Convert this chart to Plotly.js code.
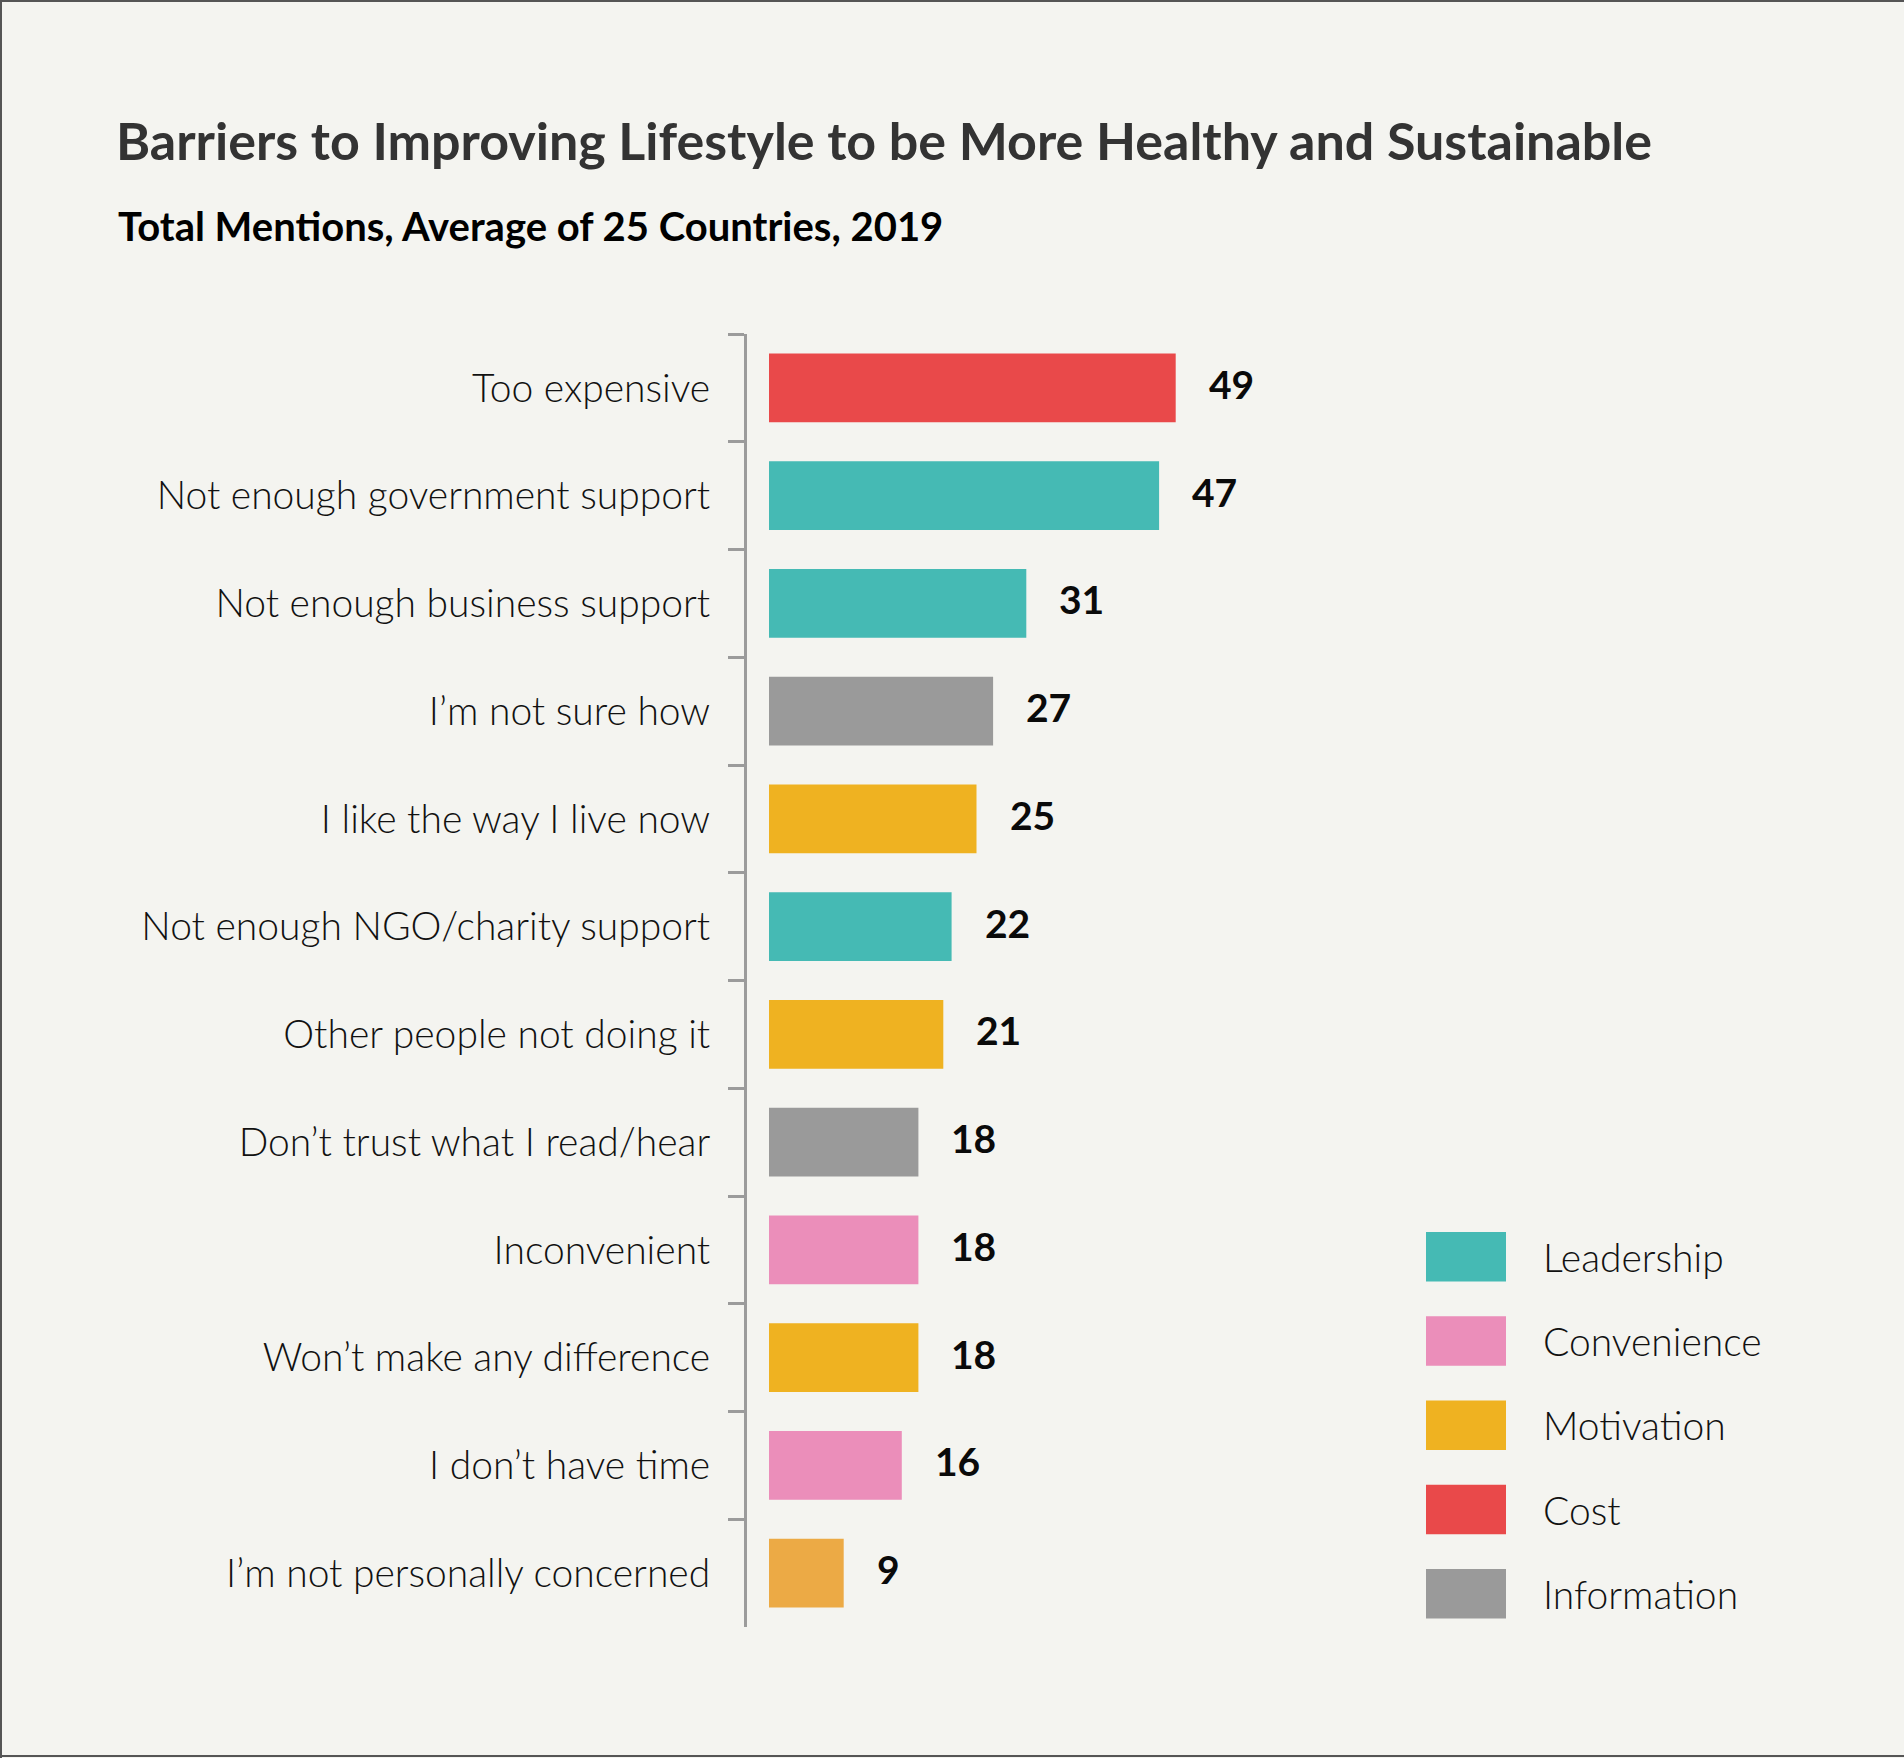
<!DOCTYPE html>
<html>
<head>
<meta charset="utf-8">
<script src="https://cdn.plot.ly/plotly-3.0.1.min.js"></script>
<style>
  html, body { margin: 0; padding: 0; background: #F4F4F0; }
  #chart { width: 1904px; height: 1758px; }
</style>
</head>
<body>
<div id="chart"></div>
<script>
// ---- Data ----
const categories = [
  "Too expensive",
  "Not enough government support",
  "Not enough business support",
  "I\u2019m not sure how",
  "I like the way I live now",
  "Not enough NGO/charity support",
  "Other people not doing it",
  "Don\u2019t trust what I read/hear",
  "Inconvenient",
  "Won\u2019t make any difference",
  "I don\u2019t have time",
  "I\u2019m not personally concerned"
];
const values = [49, 47, 31, 27, 25, 22, 21, 18, 18, 18, 16, 9];
const groups = [
  "Cost", "Leadership", "Leadership", "Information", "Motivation", "Leadership",
  "Motivation", "Information", "Convenience", "Motivation", "Convenience", "Motivation"
];
const legendGroups = ["Leadership", "Convenience", "Motivation", "Cost", "Information"];

// ---- Styles ----
const groupColors = {
  "Leadership": "#45BAB4",
  "Convenience": "#EB8EBA",
  "Motivation": "#EFB221",
  "Cost": "#E9494A",
  "Information": "#9A9A9A"
};
const barColors = groups.map((g, i) => (i === groups.length - 1 ? "#ECAA45" : groupColors[g]));

const FONT = "Lato, 'Open Sans', sans-serif";
const FIG_W = 1904, FIG_H = 1758;
const M = { l: 747, t: 334, r: 471, b: 131 };
const PW = FIG_W - M.l - M.r, PH = FIG_H - M.t - M.b;
const px2x = px => (px - M.l) / PW;
const py2y = py => (M.t + PH - py) / PH;

const trace = {
  type: "bar",
  orientation: "h",
  x: values,
  y: categories,
  marker: { color: barColors, line: { width: 0 } },
  hoverinfo: "skip"
};

const annotations = [];
values.forEach((v, i) => {
  annotations.push({
    x: v, y: categories[i], xref: "x", yref: "y",
    text: "<b>" + v + "</b>", showarrow: false,
    xanchor: "left", yanchor: "middle", xshift: 31, yshift: 4,
    font: { family: FONT, size: 39, color: "#0A0A0A" }
  });
});

// subtitle
annotations.push({
  xref: "paper", yref: "paper", x: px2x(116), y: py2y(226),
  xanchor: "left", yanchor: "middle", showarrow: false,
  text: "<b>Total Mentions, Average of 25 Countries, 2019</b>",
  font: { family: FONT, size: 40, color: "#000000" }
});

// legend
const shapes = [];
const legTop0 = 1232, legStep = 84.25, swH = 49.5;
legendGroups.forEach((g, k) => {
  const top = legTop0 + k * legStep;
  shapes.push({
    type: "rect", xref: "paper", yref: "paper",
    x0: px2x(1426), x1: px2x(1506), y0: py2y(top + swH), y1: py2y(top),
    fillcolor: groupColors[g], line: { width: 0 }
  });
  annotations.push({
    xref: "paper", yref: "paper", x: px2x(1541), y: py2y(top + swH / 2),
    xanchor: "left", yanchor: "middle", showarrow: false,
    text: g, font: { family: FONT, size: 39, color: "#111111", weight: 300 }
  });
});

// frame (top, left, bottom)
const frameLine = { color: "#555555", width: 2 };
shapes.push({ type: "line", xref: "paper", yref: "paper", x0: px2x(0), x1: px2x(FIG_W), y0: py2y(1), y1: py2y(1), line: frameLine });
shapes.push({ type: "line", xref: "paper", yref: "paper", x0: px2x(1), x1: px2x(1), y0: py2y(0), y1: py2y(FIG_H), line: frameLine });
shapes.push({ type: "line", xref: "paper", yref: "paper", x0: px2x(0), x1: px2x(FIG_W), y0: py2y(FIG_H - 2), y1: py2y(FIG_H - 2), line: frameLine });

const layout = {
  width: FIG_W, height: FIG_H,
  margin: M,
  paper_bgcolor: "#F4F4F0",
  plot_bgcolor: "#F4F4F0",
  showlegend: false,
  bargap: 0.364,
  title: {
    text: "Barriers to Improving Lifestyle to be More Healthy and Sustainable",
    font: { family: FONT, size: 52, color: "#333333", weight: 700 },
    xref: "container", yref: "container",
    x: 116 / FIG_W, xanchor: "left",
    y: 1 - 142 / FIG_H, yanchor: "middle"
  },
  xaxis: {
    visible: false,
    range: [-(769 - M.l) / 8.3, -(769 - M.l) / 8.3 + PW / 8.3],
    fixedrange: true
  },
  yaxis: {
    type: "category",
    categoryorder: "array",
    categoryarray: categories,
    autorange: "reversed",
    showline: true, linecolor: "#9B9B9B", linewidth: 3,
    ticks: "outside", tickson: "boundaries", ticklen: 16, tickwidth: 3, tickcolor: "#9B9B9B",
    ticklabelstandoff: 26,
    tickfont: { family: FONT, size: 39, color: "#111111", weight: 300 },
    showgrid: false, zeroline: false, fixedrange: true
  },
  annotations: annotations,
  shapes: shapes
};

Plotly.newPlot("chart", [trace], layout, { displayModeBar: false, staticPlot: true });
</script>
</body>
</html>
